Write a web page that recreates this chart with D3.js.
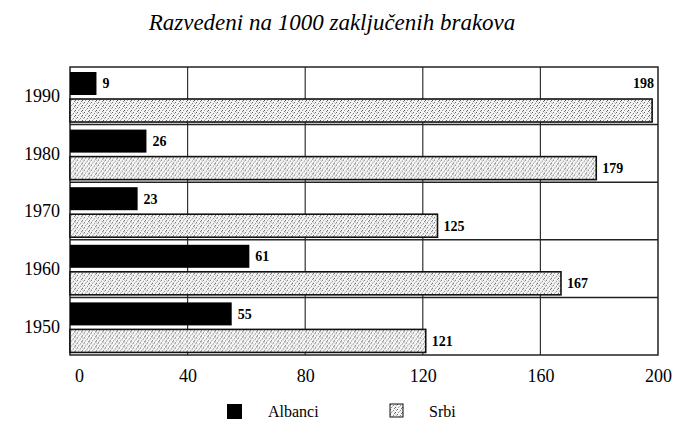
<!DOCTYPE html>
<html>
<head>
<meta charset="utf-8">
<script src="https://cdn.jsdelivr.net/npm/d3@7"></script>
<style>
  body { margin: 0; background: #fff; }
  svg { display: block; }
  text { font-family: "Liberation Serif", "DejaVu Serif", serif; fill: #000; }
</style>
</head>
<body>
<svg id="chart" width="675" height="421"></svg>
<script>
const years = ['1990', '1980', '1970', '1960', '1950'];
const series = ['Albanci', 'Srbi'];
const albanci = [9, 26, 23, 61, 55];
const srbi = [198, 179, 125, 167, 121];
const xTicks = [0, 40, 80, 120, 160, 200];
const title = 'Razvedeni na 1000 zaključenih brakova';

const width = 675, height = 421;
const margin = {top: 67, right: 17, bottom: 66, left: 70};
const innerW = width - margin.left - margin.right;
const innerH = height - margin.top - margin.bottom;
const serif = '"Liberation Serif", "DejaVu Serif", serif';

const svg = d3.select('#chart');

// stipple pattern for Srbi
const defs = svg.append('defs');
const pat = defs.append('pattern')
    .attr('id', 'stipple')
    .attr('patternUnits', 'userSpaceOnUse')
    .attr('width', 7).attr('height', 5);
pat.append('rect').attr('width', 7).attr('height', 5).attr('fill', '#f4f4f4');
[[0, 0, '#666'], [3, 1, '#888'], [5, 3, '#555'], [1, 3, '#999'], [4, 4, '#777'], [6, 1, '#aaa'], [2, 2, '#bbb'], [5, 0, '#ccc']]
    .forEach(([x, y, c]) => pat.append('rect').attr('x', x).attr('y', y).attr('width', 1).attr('height', 1).attr('fill', c));

const data = years.map((y, i) => ({year: y, values: [albanci[i], srbi[i]]}));

const x = d3.scaleLinear().domain([0, 200]).range([0, innerW]);
const y = d3.scaleBand().domain(years).range([0, innerH]).padding(0);
const ySub = d3.scaleBand().domain(series).range([0, y.bandwidth()])
    .paddingInner(0.148).paddingOuter(0.14).align(0.66);

svg.append('text')
    .attr('x', 332).attr('y', 30)
    .attr('text-anchor', 'middle')
    .style('font-family', serif)
    .style('font-style', 'italic')
    .style('font-size', '23px')
    .text(title);

const chart = svg.append('g')
    .attr('transform', `translate(${margin.left}, ${margin.top})`);

// vertical grid
chart.append('g')
    .selectAll('line')
    .data(xTicks.slice(1, -1))
    .join('line')
    .attr('x1', d => x(d)).attr('x2', d => x(d))
    .attr('y1', 0).attr('y2', innerH)
    .attr('stroke', '#333').attr('stroke-width', 1.2);

// horizontal separators
chart.append('g')
    .selectAll('line')
    .data(years.slice(1))
    .join('line')
    .attr('x1', 0).attr('x2', innerW)
    .attr('y1', d => y(d)).attr('y2', d => y(d))
    .attr('stroke', '#222').attr('stroke-width', 1.5);

chart.append('rect')
    .attr('width', innerW).attr('height', innerH)
    .attr('fill', 'none').attr('stroke', '#222').attr('stroke-width', 1.5);

const groups = chart.selectAll('.grp')
    .data(data)
    .join('g')
    .attr('class', 'grp')
    .attr('transform', d => `translate(0, ${y(d.year)})`);

groups.selectAll('rect')
    .data(d => d.values.map((v, i) => ({key: series[i], value: v})))
    .join('rect')
    .attr('x', 0)
    .attr('y', d => ySub(d.key))
    .attr('width', d => x(d.value))
    .attr('height', ySub.bandwidth())
    .attr('fill', d => d.key === 'Albanci' ? '#000' : 'url(#stipple)')
    .attr('stroke', '#111')
    .attr('stroke-width', d => d.key === 'Albanci' ? 0 : 1.6);

const tooWide = v => x(v) > innerW - 30;
groups.selectAll('.val')
    .data(d => d.values.map((v, i) => ({key: series[i], value: v})))
    .join('text')
    .attr('class', 'val')
    .attr('x', d => tooWide(d.value) ? innerW - 4 : x(d.value) + 6)
    .attr('y', d => (tooWide(d.value) ? ySub('Albanci') : ySub(d.key)) + ySub.bandwidth() / 2)
    .attr('dy', '0.35em')
    .attr('text-anchor', d => tooWide(d.value) ? 'end' : 'start')
    .style('font-family', serif)
    .style('font-weight', 'bold')
    .style('font-size', '14px')
    .text(d => d.value);

// year labels
chart.append('g')
    .selectAll('text')
    .data(years)
    .join('text')
    .attr('x', -10)
    .attr('y', d => y(d) + y.bandwidth() / 2)
    .attr('dy', '0.35em')
    .attr('text-anchor', 'end')
    .style('font-family', serif)
    .style('font-size', '18px')
    .text(d => d);

// x axis
const xAxis = d3.axisBottom(x).tickValues(xTicks).tickSize(0).tickPadding(14);
const xg = chart.append('g')
    .attr('transform', `translate(0, ${innerH})`)
    .call(xAxis);
xg.select('.domain').remove();
xg.selectAll('text')
    .style('font-size', '18px')
    .style('font-family', serif)
    .attr('fill', '#000')
    .attr('dx', d => d === 0 ? 9 : 0);

// legend
const legend = svg.append('g').attr('transform', 'translate(227, 404)');
const li = legend.selectAll('g')
    .data(series)
    .join('g')
    .attr('transform', (d, i) => `translate(${i * 163}, 0)`);
li.append('rect')
    .attr('width', d => d === 'Albanci' ? 15 : 13)
    .attr('height', d => d === 'Albanci' ? 15 : 13)
    .attr('fill', d => d === 'Albanci' ? '#000' : 'url(#stipple)')
    .attr('stroke', '#111').attr('stroke-width', d => d === 'Albanci' ? 0 : 1);
li.append('text')
    .attr('x', d => d === 'Albanci' ? 41 : 39).attr('y', 7).attr('dy', '0.35em')
    .style('font-family', serif)
    .style('font-size', '16px')
    .text(d => d);
</script>
</body>
</html>
